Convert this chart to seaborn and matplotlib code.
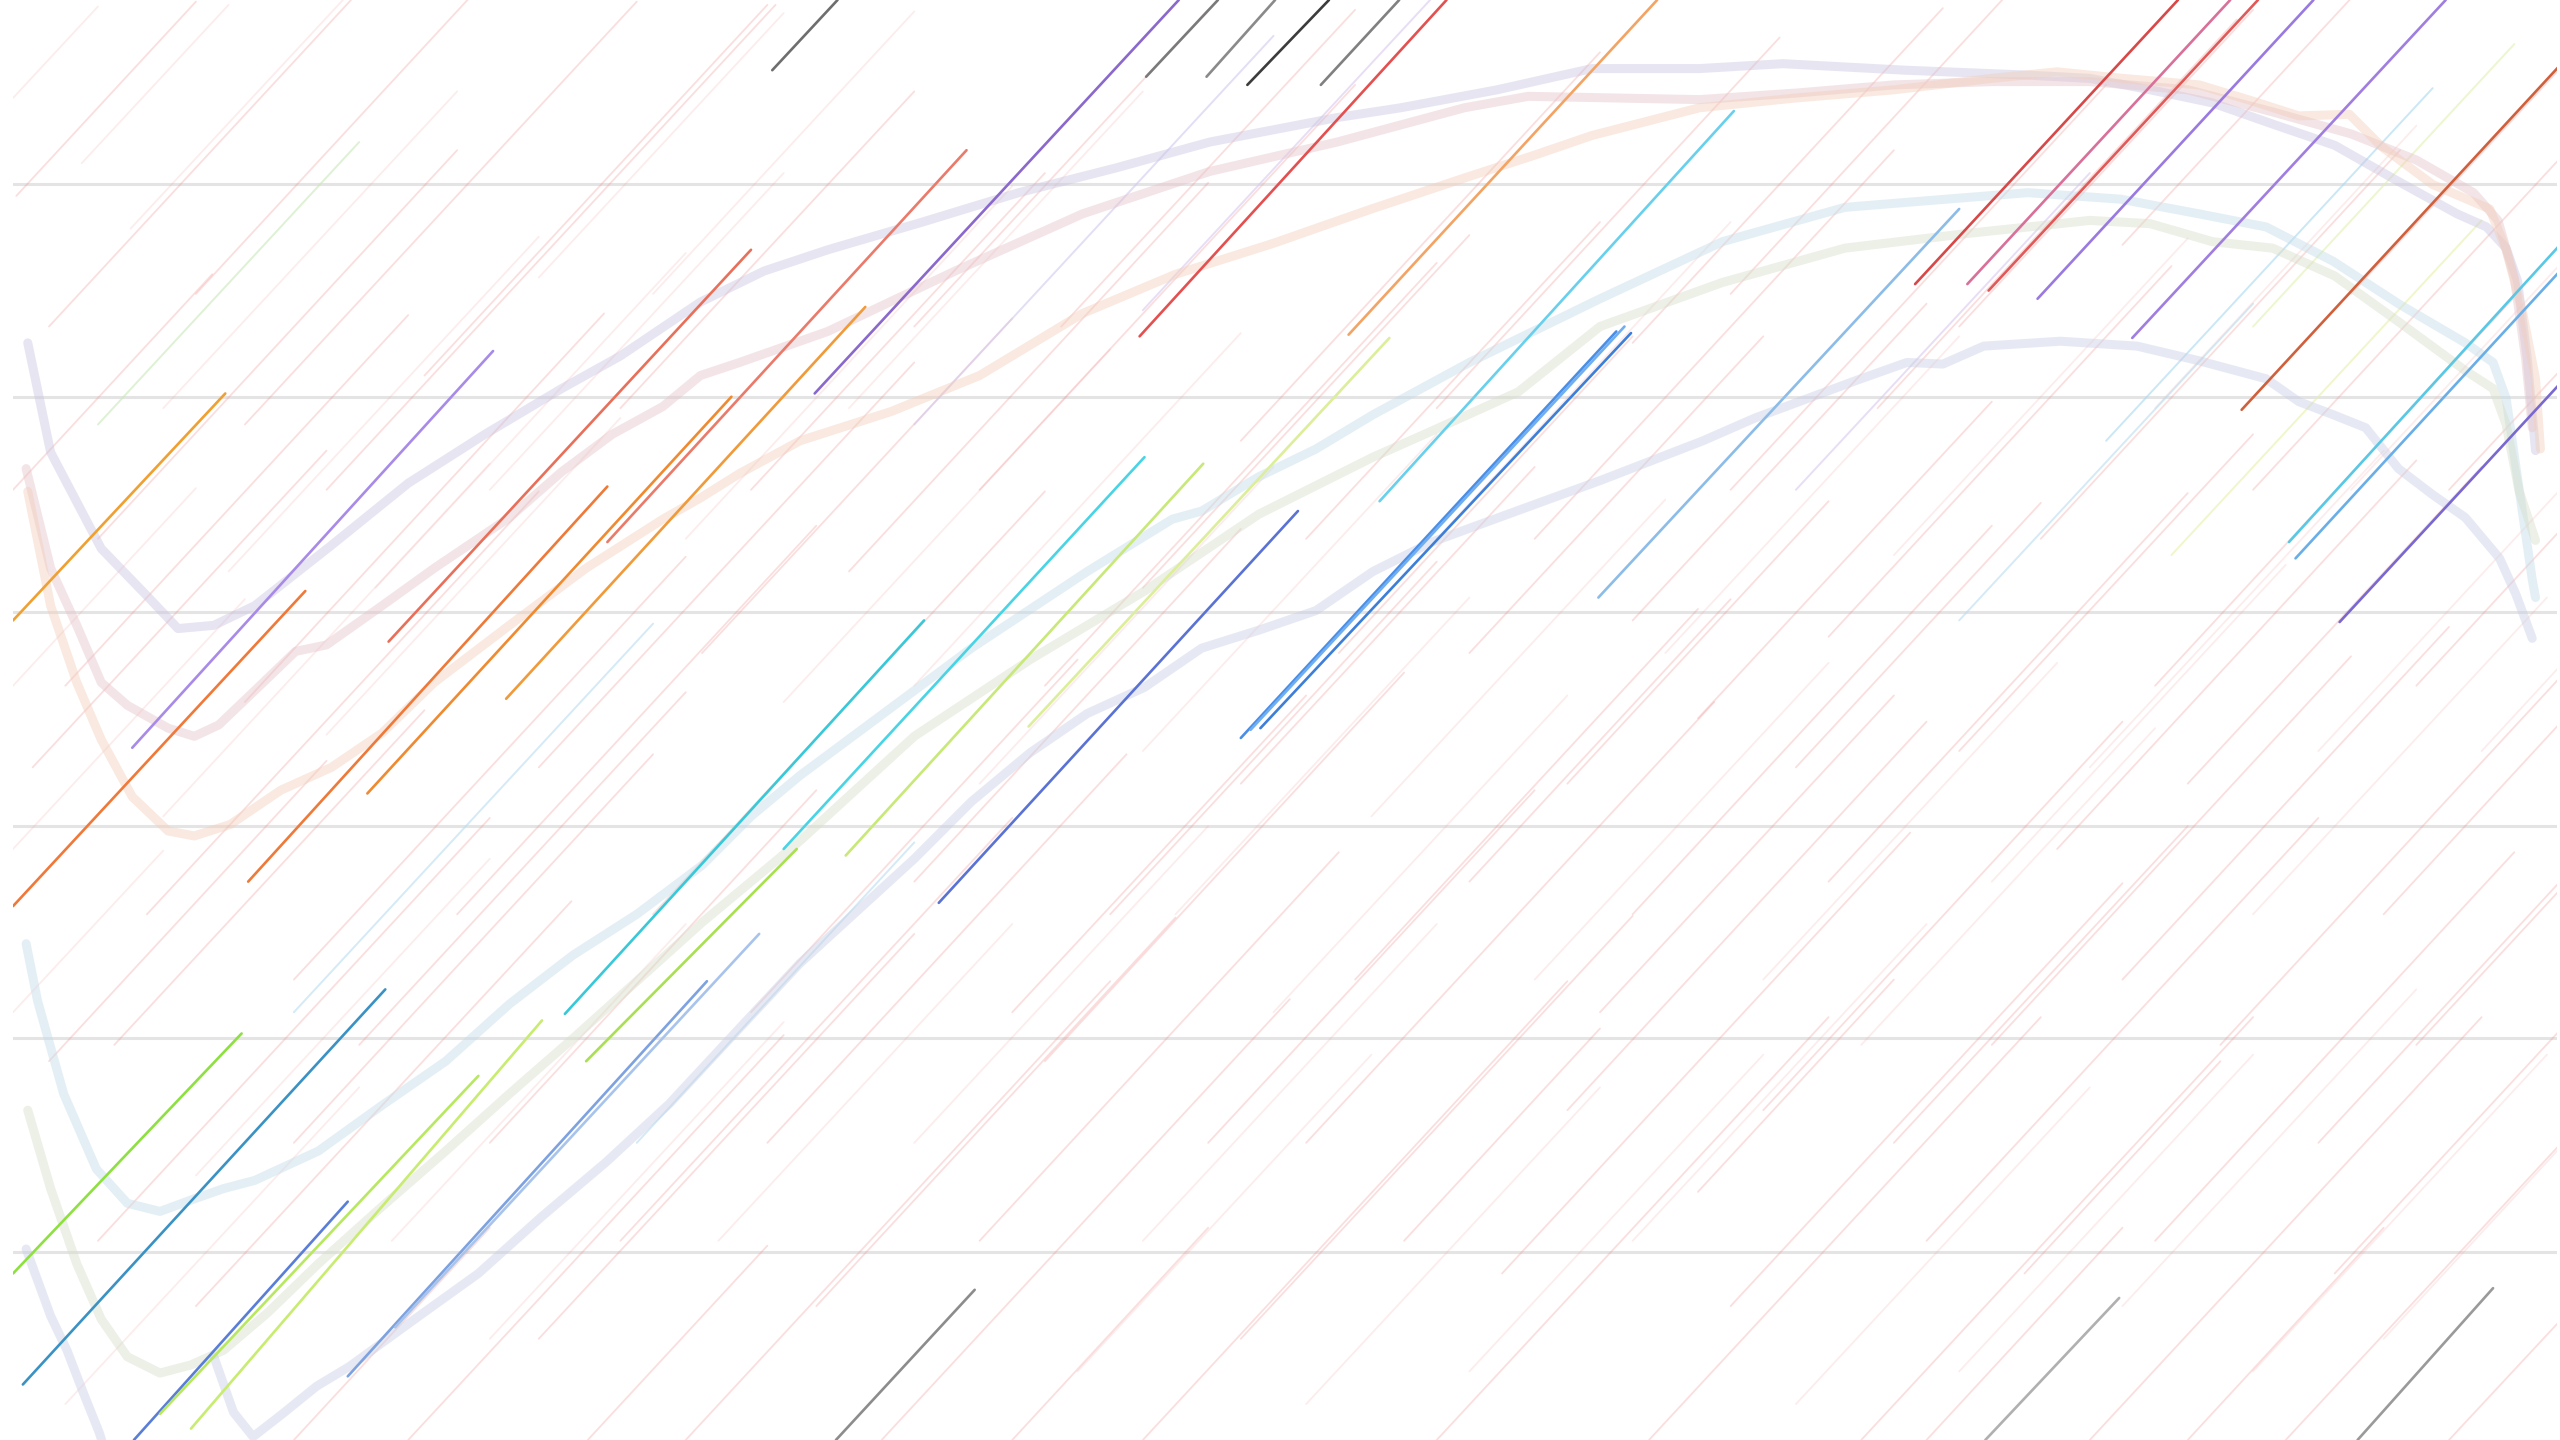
import numpy as np
import pandas as pd
import matplotlib
matplotlib.use("Agg")
import matplotlib.pyplot as plt
import seaborn as sns

# ---------------------------------------------------------------
# DATA  (x runs left->right, y is measured downward from the top)
# ---------------------------------------------------------------

# horizontal reference levels
grid_levels = [113, 243, 375, 506, 636, 767]

# six smooth profiles: upper trio and lower trio
c1_x = [17, 31, 62, 91, 109, 131, 156, 203, 250, 297, 344, 380, 429, 468, 507, 565, 624, 683,
        741, 819, 858, 917, 975, 1041, 1092, 1167, 1242, 1280, 1317, 1355, 1392, 1430, 1467,
        1505, 1523, 1535, 1542, 1548, 1553]
c1_y = [210, 277, 336, 366, 385, 383, 371, 334, 296, 266, 238, 218, 185, 166, 153, 136, 118, 103,
        87, 72, 66, 55, 42, 42, 39, 43, 46, 48, 55, 63, 76, 89, 110, 131, 139, 152, 172, 220, 276]

c2_x = [16, 31, 47, 62, 78, 103, 119, 134, 156, 181, 200, 234, 266, 312, 344, 375, 406, 429, 453,
        507, 585, 663, 741, 819, 897, 936, 1041, 1100, 1160, 1220, 1280, 1340, 1390, 1440, 1480,
        1515, 1530, 1540, 1547, 1551]
c2_y = [287, 348, 383, 418, 432, 446, 451, 444, 423, 399, 395, 371, 348, 317, 289, 266, 249, 230, 222,
        203, 166, 131, 105, 87, 66, 59, 61, 57, 52, 50, 50, 55, 68, 82, 98,
        118, 135, 170, 220, 262]

c3_x = [17, 31, 47, 62, 81, 103, 119, 141, 172, 203, 234, 266, 312, 359, 406, 429, 453, 490, 546,
        600, 663, 720, 780, 840, 897, 940, 975, 1041, 1100, 1160, 1220, 1260, 1300, 1347, 1380,
        1408, 1439, 1459, 1490, 1525, 1535, 1545, 1553, 1556]
c3_y = [301, 371, 418, 453, 488, 509, 512, 505, 484, 470, 449, 418, 383, 348, 318, 305, 290, 270, 252,
        230, 192, 168, 149, 128, 109, 95, 83, 66, 60, 55, 48, 44, 48, 52, 62,
        71, 70, 90, 113, 128, 153, 191, 232, 275]

c4_x = [16, 23, 39, 59, 78, 98, 117, 137, 156, 195, 234, 273, 312, 351, 390, 430, 460, 490, 525,
        595, 666, 718, 736, 771, 806, 841, 900, 980, 1055, 1130, 1167, 1242, 1299, 1347, 1388,
        1429, 1469, 1510, 1527, 1535, 1543, 1551, 1553]
c4_y = [578, 613, 670, 716, 737, 742, 735, 728, 723, 705, 677, 650, 615, 585, 560, 530, 500, 475, 449,
        397, 350, 318, 313, 292, 275, 254, 222, 183, 148, 127, 124, 118, 122, 131, 139,
        160, 186, 210, 222, 244, 300, 355, 366]

c5_x = [17, 31, 47, 62, 78, 98, 117, 137, 164, 195, 234, 273, 312, 351, 390, 430, 460, 490, 560,
        631, 701, 771, 841, 877, 930, 980, 1055, 1130, 1205, 1280, 1317, 1355, 1392, 1430, 1469,
        1510, 1527, 1535, 1543, 1553]
c5_y = [680, 728, 774, 808, 831, 841, 836, 827, 804, 774, 739, 705, 670, 636, 601, 565, 540, 515, 451,
        404, 362, 315, 280, 264, 240, 200, 173, 152, 143, 135, 137, 148, 152, 169, 197,
        227, 238, 260, 301, 331]

# lower lavender profile runs out of the frame, then restarts
c6a_x = [16, 31, 41, 51, 61, 66]
c6a_y = [765, 806, 827, 853, 878, 895]
c6b_x = [131, 143, 155, 173, 194, 214, 254, 293, 332, 371, 410, 449, 490, 525, 560, 595, 631, 666,
         701, 736, 771, 806, 841, 877, 918, 981, 1043, 1075, 1137, 1168, 1190, 1215, 1262, 1309,
         1347, 1388, 1408, 1429, 1449, 1469, 1490, 1510, 1531, 1541, 1551]
c6b_y = [831, 865, 880, 866, 849, 837, 808, 780, 745, 712, 676, 634, 590, 558, 526, 491, 461, 437,
         421, 397, 386, 374, 350, 332, 317, 294, 270, 256, 233, 222, 223, 212, 209, 212,
         221, 232, 246, 254, 262, 287, 303, 317, 342, 364, 391]

# strokes: (x_start, y_start, x_end, y_end)
grey_segs = [(473, 43, 513, 0), (702, 47, 746, 0), (739, 47, 781, 0), (764, 52, 814, 0),
             (809, 52, 857, 0), (512, 882, 597, 790), (1216, 882, 1298, 795), (1444, 882, 1527, 789)]

orange_segs = [(8, 380, 138, 241), (8, 555, 187, 362), (152, 540, 372, 298), (225, 486, 448, 243),
               (310, 428, 530, 188), (826, 205, 1015, 0)]

red_segs = [(238, 393, 460, 153), (372, 332, 592, 92), (698, 206, 886, 0), (1173, 174, 1334, 0),
            (1218, 178, 1383, 0), (1373, 251, 1568, 40)]

purple_segs = [(81, 458, 302, 215), (499, 241, 722, 0), (1205, 174, 1366, 0), (1248, 183, 1417, 0),
               (1306, 207, 1498, 0), (1433, 381, 1568, 235)]

cyan_segs = [(346, 621, 566, 380), (480, 520, 701, 280), (845, 307, 1062, 68), (1402, 332, 1568, 150),
             (1406, 342, 1568, 166), (979, 366, 1200, 128)]

blue_segs = [(760, 452, 990, 203), (766, 447, 995, 200), (772, 446, 999, 204), (575, 553, 795, 313),
             (14, 848, 236, 606), (82, 882, 213, 736), (213, 843, 433, 601), (242, 813, 465, 572)]

lime_segs = [(8, 780, 148, 633), (98, 866, 293, 659), (117, 875, 332, 625), (359, 650, 488, 520),
             (518, 524, 737, 284), (630, 445, 851, 207)]

pale_segs = [(1290, 270, 1490, 54), (1330, 340, 1520, 135), (1100, 300, 1280, 106), (700, 190, 900, -26),
             (560, 260, 780, 22), (1380, 200, 1540, 27), (60, 260, 220, 87), (180, 620, 400, 382),
             (390, 700, 560, 516), (1200, 380, 1380, 186)]

pink_segs = [
    (10, 120, 120, 1), (30, 200, 215, 0), (60, 330, 280, 92), (120, 180, 290, -4), (150, 260, 390, 1),
    (200, 300, 475, 3), (260, 230, 470, 3), (20, 470, 200, 276), (40, 420, 250, 193), (90, 560, 330, 301),
    (150, 430, 370, 192), (180, 600, 420, 341), (280, 560, 500, 322), (330, 470, 560, 222), (400, 560, 640, 301),
    (430, 400, 620, 195), (520, 350, 740, 112), (560, 200, 740, 6), (600, 300, 830, 52), (640, 420, 880, 161),
    (700, 360, 900, 144), (760, 270, 980, 32), (880, 250, 1090, 23), (940, 330, 1160, 92), (1000, 210, 1190, 5),
    (1060, 300, 1290, 52), (1120, 390, 1330, 163), (1150, 250, 1370, 12), (1250, 330, 1470, 92),
    (1320, 420, 1540, 182), (1380, 300, 1568, 97), (1440, 180, 1568, 42), (1480, 420, 1568, 325),
    (30, 650, 200, 466), (60, 760, 300, 501), (180, 700, 400, 462), (250, 882, 480, 634), (330, 820, 560, 572),
    (380, 760, 620, 501), (420, 882, 680, 601), (470, 700, 690, 462), (540, 882, 790, 612), (600, 760, 820, 522),
    (640, 650, 860, 412), (680, 560, 880, 344), (700, 882, 960, 601), (760, 820, 1000, 561), (800, 700, 1050, 430),
    (830, 600, 1040, 373), (880, 882, 1120, 623), (920, 780, 1170, 510), (960, 680, 1180, 442),
    (1000, 560, 1220, 322), (1010, 882, 1250, 623), (1060, 800, 1300, 541), (1080, 680, 1300, 442),
    (1120, 540, 1340, 302), (1140, 882, 1380, 623), (1180, 760, 1420, 501), (1220, 640, 1440, 402),
    (1260, 520, 1480, 282), (1280, 882, 1520, 623), (1320, 760, 1540, 522), (1360, 640, 1568, 415),
    (1400, 882, 1568, 701), (1430, 780, 1568, 631), (1460, 560, 1568, 443), (1500, 882, 1568, 809),
    (1100, 470, 1250, 308), (960, 480, 1120, 307), (900, 540, 1060, 367), (1340, 882, 1460, 752),
    (1180, 882, 1300, 752), (620, 882, 740, 752), (360, 882, 470, 763), (180, 882, 300, 752),
    (860, 760, 980, 630), (1240, 780, 1360, 650), (1040, 730, 1160, 600),
    (8, 300, 130, 168), (70, 640, 260, 435), (120, 800, 350, 552), (220, 640, 420, 424), (300, 700, 500, 484),
    (460, 620, 660, 404), (500, 800, 720, 562), (560, 540, 760, 324), (620, 620, 800, 426), (740, 700, 940, 484),
    (760, 480, 940, 286), (820, 400, 1000, 206), (980, 620, 1160, 426), (1040, 440, 1220, 246),
    (1160, 700, 1340, 506), (1200, 460, 1380, 266), (1300, 600, 1500, 384), (1340, 480, 1520, 286),
    (1420, 700, 1568, 540), (1480, 640, 1568, 545), (1060, 180, 1230, -4), (1200, 200, 1380, 6),
    (1300, 150, 1440, -1), (380, 250, 560, 56), (460, 300, 640, 106), (650, 200, 830, 6),
    (800, 330, 980, 136), (900, 400, 1080, 206), (1000, 380, 1180, 186), (1500, 300, 1568, 227),
]

# even fainter background strokes
pink_light_segs = [
    (8, 60, 60, 4), (50, 100, 140, 3), (80, 140, 210, 0), (100, 250, 280, 56), (140, 350, 330, 145),
    (8, 420, 120, 299), (8, 520, 150, 367), (8, 620, 100, 521), (100, 500, 300, 284), (200, 450, 380, 256),
    (230, 360, 420, 155), (300, 300, 480, 106), (330, 170, 480, 8), (400, 180, 560, 7), (420, 330, 620, 114),
    (480, 430, 680, 214), (520, 250, 700, 56), (560, 420, 760, 204), (600, 480, 780, 286), (700, 460, 880, 266),
    (720, 560, 900, 366), (780, 620, 960, 426), (840, 500, 1020, 306), (880, 330, 1060, 136), (940, 600, 1120, 406),
    (1020, 400, 1200, 206), (1080, 600, 1260, 406), (1140, 640, 1320, 446), (1160, 340, 1340, 146),
    (1220, 540, 1400, 346), (1280, 470, 1460, 276), (1320, 250, 1480, 77), (1380, 560, 1560, 366),
    (1420, 460, 1568, 300), (1440, 300, 1568, 162), (1520, 460, 1568, 408), (900, 840, 1080, 646),
    (1000, 760, 1180, 566), (1100, 860, 1280, 666), (1200, 840, 1380, 646), (1300, 800, 1480, 606),
    (1380, 840, 1560, 646), (1460, 820, 1568, 703), (800, 860, 980, 666), (700, 760, 880, 566),
    (560, 700, 740, 506), (440, 760, 620, 566), (300, 820, 480, 626), (240, 760, 420, 566),
    (120, 720, 300, 526), (40, 860, 220, 666), (660, 840, 840, 646),
]

# ---------------------------------------------------------------
# STYLE
# ---------------------------------------------------------------
curve_style = [
    (c1_x, c1_y, "#cbc6e0"),
    (c2_x, c2_y, "#e6c4ca"),
    (c3_x, c3_y, "#f2cfbb"),
    (c4_x, c4_y, "#c4dde9"),
    (c5_x, c5_y, "#d6dec9"),
    (c6a_x, c6a_y, "#c9d0e5"),
    (c6b_x, c6b_y, "#c9d0e5"),
]

group_shades = {
    "grey": ["#6e6e6e", "#7a7a7a", "#8a8a8a", "#3c3c3c", "#808080", "#8c8c8c", "#b0b0b0", "#9a9a9a"],
    "orange": ["#f0a030", "#f07838", "#ee7a3a", "#f08a30", "#f09a3a", "#f3a464"],
    "red": ["#e8705a", "#ea7a6a", "#e45050", "#d84848", "#e05a5a", "#d0603c"],
    "purple": ["#a88ae8", "#8a68cc", "#d8709a", "#9a7ae0", "#a07ee0", "#7868d0"],
    "cyan": ["#38c8d8", "#48d4e4", "#68d0ec", "#58c8e4", "#6aaee8", "#8cbce8"],
    "blue": ["#4a8ee6", "#70aef2", "#3c7ed8", "#5a72d4", "#3a92c4", "#5a7ed8", "#7ea2e0", "#a8c4ec"],
    "lime": ["#8ee040", "#b8e860", "#c8ec70", "#a8e050", "#c8e878", "#dcee9a"],
    "pale": ["#a8d8f0", "#e8f0a8", "#d8c8f0", "#d8c8f0", "#d0c8f0", "#e0f0b0", "#c8e8b8", "#b8dcf0",
             "#b8dcf0", "#b8dcf0"],
}


def seg_frame(segs):
    rows = []
    for i, (x0, y0, x1, y1) in enumerate(segs):
        rows.append((f"s{i}", x0, y0))
        rows.append((f"s{i}", x1, y1))
    return pd.DataFrame(rows, columns=["seg", "x", "y"])


sns.set_style("whitegrid")
fig = plt.figure(figsize=(25.6, 14.4), dpi=100)
ax = fig.add_axes([8 / 1568, 0, 1558 / 1568, 1])

# faint background strokes
light_df = seg_frame(pink_light_segs)
sns.lineplot(data=light_df, x="x", y="y", units="seg", estimator=None, sort=False,
             color="#f29a9a", alpha=0.18, lw=1.3, ax=ax, zorder=1)

pink_df = seg_frame(pink_segs)
sns.lineplot(data=pink_df, x="x", y="y", units="seg", estimator=None, sort=False,
             color="#f08a8a", alpha=0.28, lw=1.3, ax=ax, zorder=1)

pale_df = seg_frame(pale_segs)
sns.lineplot(data=pale_df, x="x", y="y", hue="seg", estimator=None, sort=False,
             palette=dict(zip(pale_df["seg"].unique(), group_shades["pale"])),
             alpha=0.6, lw=1.4, legend=False, ax=ax, zorder=1)

# broad translucent profiles
for cx, cy, col in curve_style:
    sns.lineplot(x=cx, y=cy, sort=False, estimator=None, color=col, alpha=0.45, lw=6.5,
                 solid_joinstyle="round", solid_capstyle="round", ax=ax, zorder=2)

# bright strokes on top
groups = [("grey", grey_segs), ("orange", orange_segs), ("red", red_segs), ("purple", purple_segs),
          ("cyan", cyan_segs), ("blue", blue_segs), ("lime", lime_segs)]
for name, segs in groups:
    df = seg_frame(segs)
    sns.lineplot(data=df, x="x", y="y", hue="seg", estimator=None, sort=False,
                 palette=dict(zip(df["seg"].unique(), group_shades[name])),
                 lw=1.9, legend=False, ax=ax, zorder=3)

ax.set_xlim(8, 1566)
ax.set_ylim(882, 0)
ax.set_yticks(grid_levels)
ax.yaxis.grid(True, color="#e4e4e4", lw=2.2, zorder=0)
ax.xaxis.grid(False)
ax.set_xticks([])
ax.set_xlabel("")
ax.set_ylabel("")
ax.tick_params(left=False, labelleft=False, bottom=False, labelbottom=False)
for s in ax.spines.values():
    s.set_visible(False)
ax.set_facecolor("white")
fig.patch.set_facecolor("white")

fig.savefig("out.png", dpi=100, facecolor="white")
